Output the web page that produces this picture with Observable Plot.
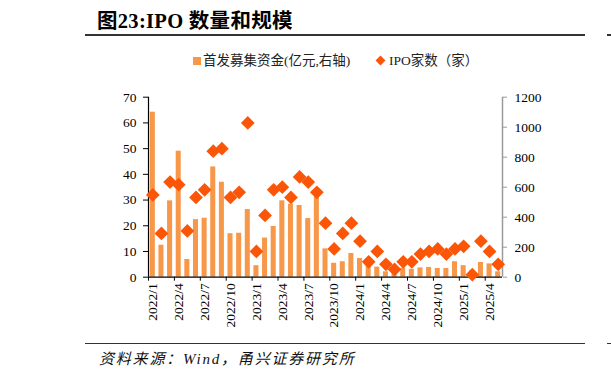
<!DOCTYPE html>
<html><head><meta charset="utf-8">
<script src="https://cdn.jsdelivr.net/npm/d3@7"></script>
<script src="https://cdn.jsdelivr.net/npm/@observablehq/plot@0.6"></script>
<style>
body{margin:0;background:#fff;}
#wrap{position:relative;width:611px;height:377px;overflow:hidden;background:#fff;}
#chart{position:absolute;left:0;top:0;}
.hr{position:absolute;height:1.5px;background:#333;}
#title{position:absolute;left:97px;top:8px;font:bold 20.5px "Liberation Serif","Noto Sans CJK SC",serif;color:#000;white-space:nowrap;line-height:26px;letter-spacing:0.3px;}
#legend{position:absolute;left:0;top:53px;font:13.5px "Liberation Serif","Noto Sans CJK SC",serif;color:#222;white-space:nowrap;line-height:16px;}
#legend span{position:absolute;top:0;}
#caption{position:absolute;left:99px;top:347px;font:italic 15px "Liberation Serif","Noto Sans CJK SC",serif;color:#111;white-space:nowrap;letter-spacing:1.8px;}
</style></head><body>
<div id="wrap">
  <div id="title">图23:IPO 数量和规模</div>
  <div class="hr" style="left:85px;top:34px;width:500px;"></div>
  <div class="hr" style="left:607px;top:34px;width:4px;"></div>
  <div id="chart"></div>
  <div id="legend"></div>
  <div class="hr" style="left:85px;top:342.5px;width:500px;"></div>
  <div class="hr" style="left:607px;top:342.5px;width:4px;"></div>
  <div id="caption">资料来源：Wind，甬兴证券研究所</div>
</div>
<script>
// Months 2022/1 .. 2025/5
const months = [
  "2022/1","2022/2","2022/3","2022/4","2022/5","2022/6","2022/7","2022/8","2022/9","2022/10","2022/11","2022/12",
  "2023/1","2023/2","2023/3","2023/4","2023/5","2023/6","2023/7","2023/8","2023/9","2023/10","2023/11","2023/12",
  "2024/1","2024/2","2024/3","2024/4","2024/5","2024/6","2024/7","2024/8","2024/9","2024/10","2024/11","2024/12",
  "2025/1","2025/2","2025/3","2025/4","2025/5"
];
// 首发募集资金 (亿元, right axis)
const funds = [
  1100, 213, 509, 840, 118, 384, 393, 735, 633, 290, 293, 451,
  77, 261, 338, 509, 487, 478, 391, 535, 189, 93, 103, 158,
  125, 94, 67, 36, 26, 60, 53, 62, 65, 58, 58, 103,
  77, 43, 98, 89, 36
];
// IPO家数 (家, left axis)
const counts = [
  32, 17, 37, 36, 18, 31, 34, 49, 50, 31, 33, 60,
  10, 24, 34, 35, 31, 39, 37, 33, 21, 11, 17, 21,
  14, 6, 10, 5, 3, 6, 6, 9, 10, 11, 9, 11,
  12, 1, 14, 10, 5
];
const xTickLabels = ["2022/1","2022/4","2022/7","2022/10","2023/1","2023/4","2023/7","2023/10","2024/1","2024/4","2024/7","2024/10","2025/1","2025/4"];
const leftTicks = [0,10,20,30,40,50,60,70];
const rightTicks = [0,200,400,600,800,1000,1200];
const seriesNames = ["首发募集资金(亿元,右轴)", "IPO家数（家）"];

const barColor = "#F7974A";
const dotColor = "#FB5608";
const LMAX = 70, RMAX = 1200;
const k = LMAX / RMAX;

const data = months.map((m, i) => ({m, i, funds: funds[i], count: counts[i]}));
const tickIdx = xTickLabels.map(l => months.indexOf(l));

const chart = Plot.plot({
  width: 611,
  height: 377,
  marginTop: 96.7,
  marginBottom: 100.3,
  marginLeft: 148,
  marginRight: 109,
  style: {fontFamily: "'Liberation Serif','Times New Roman',serif", fontSize: "13.5px", color: "#000", background: "transparent"},
  x: {type: "linear", domain: [0, months.length], label: null},
  y: {domain: [0, LMAX], label: null},
  marks: [
    Plot.rectY(data, {x1: d => d.i, x2: d => d.i + 1, y: d => d.funds * k, fill: barColor, insetLeft: 1.8, insetRight: 1.8}),
    Plot.ruleY([0], {stroke: "#000", strokeWidth: 1.2}),
    Plot.ruleX([0], {stroke: "#000", strokeWidth: 1.2}),
    Plot.ruleX([months.length], {stroke: "#9a9a9a", strokeWidth: 1.5}),
    Plot.axisY({ticks: leftTicks, tickSize: 5, tickPadding: 7, stroke: "#000", fill: "#000", label: null}),
    Plot.axisY({anchor: "right", ticks: rightTicks.map(v => v * k), tickFormat: d => String(Math.round(d / k)), tickSize: 4, tickPadding: 8, stroke: "#9a9a9a", fill: "#000", label: null}),
    Plot.axisX({ticks: tickIdx, tickSize: 4, tickFormat: () => "", stroke: "#000", label: null}),
    Plot.axisX({ticks: tickIdx.map(v => v + 0.5), tickSize: 0, tickPadding: 6, tickRotate: -90, tickFormat: d => months[Math.round(d - 0.5)], fill: "#000", label: null}),
    Plot.dot(data, {x: d => d.i + 0.5, y: d => d.count, symbol: "diamond2", r: 6.2, fill: dotColor, stroke: "none"})
  ]
});
document.getElementById("chart").appendChild(chart);

// legend
const lg = document.getElementById("legend");
lg.innerHTML =
  `<span style="left:193px;top:4px;width:8px;height:8px;background:${barColor};"></span>` +
  `<span style="left:203px;">${seriesNames[0]}</span>` +
  `<span style="left:377px;top:3px;width:7px;height:7px;background:${dotColor};transform:rotate(45deg);margin-top:1px;"></span>` +
  `<span style="left:389px;">${seriesNames[1]}</span>`;
</script>
</body></html>
